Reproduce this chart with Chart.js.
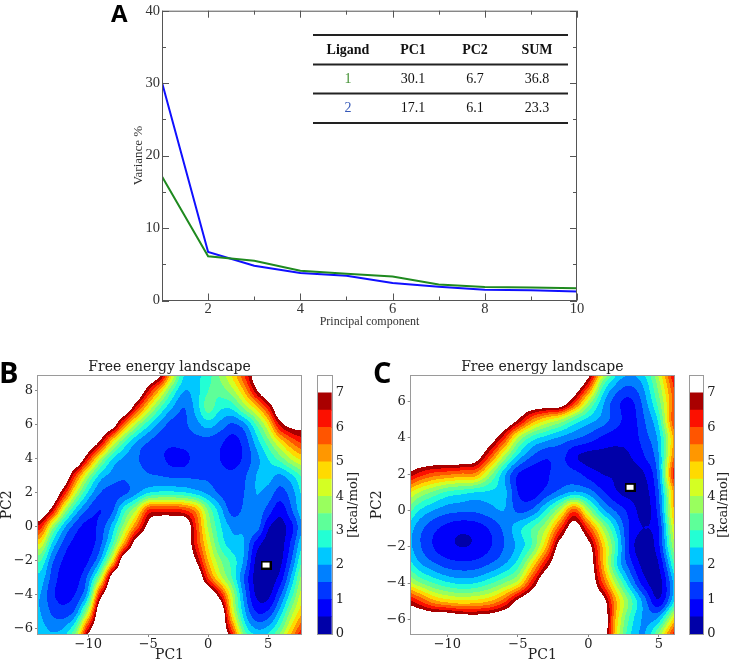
<!DOCTYPE html>
<html>
<head>
<meta charset="utf-8">
<script src="https://cdn.jsdelivr.net/npm/chart.js@4.4.1/dist/chart.umd.min.js"></script>
<style>
  html, body { margin: 0; padding: 0; background: #fff; }
  #wrap { position: relative; width: 731px; height: 662px; overflow: hidden; }
  canvas { position: absolute; }
</style>
</head>
<body>
<div id="wrap">
  <canvas id="chartA" width="731" height="330" style="left:0;top:0"></canvas>
  <canvas id="chartB" width="318" height="332" style="left:0;top:330px"></canvas>
  <canvas id="barB" width="70" height="332" style="left:300px;top:330px"></canvas>
  <canvas id="chartC" width="320" height="332" style="left:370px;top:330px"></canvas>
  <canvas id="barC" width="59" height="332" style="left:672px;top:330px"></canvas>
</div>
<script>
// --- panel A: variance per principal component ---
const components = [1, 2, 3, 4, 5, 6, 7, 8, 9, 10];
const varianceGreen = [17.1, 6.1, 5.5, 4.1, 3.7, 3.3, 2.2, 1.85, 1.8, 1.7];
const varianceBlue = [30.1, 6.7, 4.8, 3.8, 3.4, 2.4, 1.9, 1.5, 1.4, 1.25];
const xTicksA = [2, 4, 6, 8, 10];
const xMinorA = [1, 3, 5, 7, 9];
const yTicksA = [0, 10, 20, 30, 40];
const yMinorA = [5, 15, 25, 35];
const tableHeader = ['Ligand', 'PC1', 'PC2', 'SUM'];
const tableRows = [['1', '30.1', '6.7', '36.8'], ['2', '17.1', '6.1', '23.3']];
const ligandColors = ['#3f8f2f', '#3558b8'];

// --- contour levels (kcal/mol) ---
const levelStep = 0.5;
const levelMax = 7;
const levelColors = ['#0000a8', '#0000fb', '#0037ff', '#0080ff', '#00c8ff', '#23ffd4', '#5eff99',
                     '#99ff5e', '#d4ff23', '#ffda00', '#ff9700', '#ff5500', '#fc1000', '#a90000'];
const cbTicks = [0, 1, 2, 3, 4, 5, 6, 7];

// --- panel B: free energy, 1-unit grid (rows: y = 9 .. -7) ---
const bGridX = [-14, -13, -12, -11, -10, -9, -8, -7, -6, -5, -4, -3, -2, -1, 0, 1, 2, 3, 4, 5, 6, 7, 8];
const bGridY = [9, 8, 7, 6, 5, 4, 3, 2, 1, 0, -1, -2, -3, -4, -5, -6, -7];
const energyB = [
  [8,8,8,8,8,8,8,8,8,8,7.2,4.5,2.5,2.4,2.8,3.6,4.6,6.0,7.6,8,8,8,8],
  [8,8,8,8,8,8,8,8,8,6.5,4.8,3.0,2.0,2.3,3.0,3.2,3.8,5.0,6.8,8,8,8,8],
  [8,8,8,8,8,8,8,8,6.3,4.5,3.0,2.0,1.5,2.2,3.2,2.6,2.6,3.6,4.7,6.2,8,8,8],
  [8,8,8,8,8,8,7.5,5.5,3.8,2.6,1.8,1.3,1.4,1.8,2.2,1.8,1.4,1.8,3.0,4.5,6.6,7.3,7.3],
  [8,8,8,8,8,6.8,4.6,3.0,2.0,1.5,1.2,1.1,1.2,1.3,1.3,1.1,0.8,1.2,2.2,3.3,4.6,5.6,6.2],
  [8,8,8,8,6.2,4.0,2.5,1.9,1.6,1.2,1.1,0.85,0.85,1.2,1.3,1.0,0.8,1.1,1.8,2.5,3.2,4.1,4.7],
  [8,8,7.8,5.8,3.7,2.3,1.8,1.6,1.8,1.6,1.5,1.4,1.4,1.4,1.4,1.2,1.1,1.4,2.0,2.2,1.9,2.4,3.2],
  [8,8,6.3,4.0,2.4,1.5,1.3,1.4,1.9,2.5,2.7,2.7,2.6,2.3,1.9,1.4,1.1,1.5,2.0,1.8,1.3,1.8,2.7],
  [8,6.6,4.0,2.3,1.4,1.0,1.4,2.8,4.0,6.0,6.2,6.2,6.0,5.2,3.4,2.2,1.3,1.6,1.9,1.3,0.7,1.5,2.5],
  [6.2,3.8,2.1,1.2,0.8,1.2,2.2,3.8,5.6,7.3,8,8,8,6.0,3.9,2.6,1.9,1.9,1.8,0.6,0.3,0.9,2.1],
  [4.4,2.4,1.3,0.8,0.75,1.4,2.9,5.3,7.6,8,8,8,8,6.2,4.4,2.9,2.2,2.0,0.8,0.25,0.25,1.2,2.6],
  [3.0,1.6,0.9,0.65,1.0,2.1,4.6,7.9,8,8,8,8,8,7.0,5.0,3.6,2.8,1.9,0.4,0.15,0.35,1.6,3.2],
  [2.3,1.3,0.75,0.8,1.7,3.9,7.6,8,8,8,8,8,8,8,6.0,4.3,3.0,1.5,0.3,0.2,0.7,2.2,3.9],
  [2.0,1.1,0.85,1.1,2.4,6.5,8,8,8,8,8,8,8,8,8,6.5,4.0,1.8,0.45,0.35,1.4,2.9,4.5],
  [2.0,1.4,1.2,1.8,4.2,8,8,8,8,8,8,8,8,8,8,8,4.5,2.2,1.0,1.1,2.2,3.8,5.0],
  [2.2,1.9,2.1,3.3,6.5,8,8,8,8,8,8,8,8,8,8,8,5.8,3.0,2.0,2.2,3.2,4.8,6.2],
  [2.6,2.4,2.8,4.8,8,8,8,8,8,8,8,8,8,8,8,8,7.5,4.5,3.2,3.3,4.4,6.0,7.5]
];
const markerB = [{ x: 4.83, y: -2.24 }];
const xTicksB = [-10, -5, 0, 5];
const yTicksB = [-6, -4, -2, 0, 2, 4, 6, 8];

// --- panel C: free energy, 1-unit grid (rows: y = 8 .. -7) ---
const cGridX = [-13, -12, -11, -10, -9, -8, -7, -6, -5, -4, -3, -2, -1, 0, 1, 2, 3, 4, 5, 6, 7];
const cGridY = [8, 7, 6, 5, 4, 3, 2, 1, 0, -1, -2, -3, -4, -5, -6, -7];
const energyC = [
  [8,8,8,8,8,8,8,8,8,8,8,8,8,8,5.5,3.0,2.4,2.8,4.4,6.8,8],
  [8,8,8,8,8,8,8,8,8,8,8,8,8,6.4,3.3,2.0,1.6,2.2,3.8,6.0,8],
  [8,8,8,8,8,8,8,8,8,8,8,8,6.3,4.0,2.2,1.2,0.9,1.8,3.3,5.6,8],
  [8,8,8,8,8,8,8,8,7.0,5.5,4.6,4.0,3.0,2.3,1.8,1.2,0.8,1.5,2.7,5.8,8],
  [8,8,8,8,8,8,7.6,6.2,4.0,2.8,2.3,1.9,1.6,1.3,0.9,0.7,0.7,1.3,2.2,5.0,8],
  [8,8,8,8,8,7.6,6.0,4.0,2.4,1.5,1.1,1.2,0.6,0.35,0.35,0.35,0.5,1.0,2.0,5.3,8],
  [7.0,6.3,5.8,5.6,5.4,5.3,3.8,2.2,1.0,0.7,0.9,1.3,1.2,0.8,0.5,0.45,0.3,0.5,1.8,6.0,8],
  [4.8,4.0,3.4,2.9,2.7,2.5,2.4,2.2,1.0,0.7,1.2,1.7,2.1,1.8,1.1,0.55,0.3,0.3,1.5,5.0,8],
  [3.4,2.5,2.0,1.7,1.6,1.6,1.8,2.0,1.4,1.6,2.6,4.0,5.8,3.8,2.2,1.4,0.8,0.3,1.3,4.8,8],
  [2.45,1.7,1.15,0.8,0.63,0.72,1.05,1.6,2.3,3.0,4.0,6.0,7.6,6.0,4.0,2.3,0.9,0.5,1.0,4.2,7],
  [2.35,1.6,1.0,0.65,0.495,0.6,0.95,1.5,2.15,3.1,5.0,7.5,8,7.4,5.0,2.8,0.8,0.2,0.9,3.6,6],
  [3.0,2.15,1.65,1.3,1.2,1.25,1.55,2.0,2.8,4.6,6.6,8,8,7.8,5.2,2.6,1.2,0.3,0.5,2.8,6],
  [4.4,3.6,3.0,2.6,2.4,2.5,2.9,3.5,4.3,6.3,8,8,8,8,6.0,3.8,2.0,0.7,0.3,2.0,5],
  [6.8,6.1,5.2,4.8,4.6,4.7,5.0,5.8,7.2,8,8,8,8,8,7.5,5.0,3.2,1.7,0.6,2.3,5],
  [8,8,8,8,7.7,7.6,7.7,8,8,8,8,8,8,8,8,4.8,2.8,1.9,2.2,4.5,7],
  [8,8,8,8,8,8,8,8,8,8,8,8,8,8,8,4.5,2.5,2.0,3.8,6.3,8]
];
const markerC = [{ x: 2.96, y: 1.28 }];
const xTicksC = [-10, -5, 0, 5];
const yTicksC = [-6, -4, -2, 0, 2, 4, 6];

Chart.defaults.animation = false;
Chart.defaults.responsive = false;
Chart.defaults.plugins.legend.display = false;
Chart.defaults.plugins.tooltip.enabled = false;
Chart.defaults.color = '#222';

const serifA = 'Liberation Serif';
const serifB = 'DejaVu Serif';

// panel letter (A, B, C)
const panelLetter = {
  id: 'panelLetter',
  afterDraw(chart, args, opts) {
    if (!opts.text) return;
    const ctx = chart.ctx;
    ctx.save();
    ctx.fillStyle = '#000';
    ctx.font = `bold ${opts.size}px "Open Sans", "DejaVu Sans", sans-serif`;
    ctx.textBaseline = 'alphabetic';
    ctx.fillText(opts.text, opts.x, opts.y);
    ctx.restore();
  }
};

// --- PANEL A ---
const frameA = {
  id: 'frameA',
  afterDatasetsDraw(chart) {
    const { ctx, chartArea: a, scales: { x, y } } = chart;
    ctx.save();
    ctx.strokeStyle = '#555';
    ctx.lineWidth = 1;
    ctx.strokeRect(a.left + 0.5, a.top + 0.5, a.width - 1, a.height - 0.5);
    const seg = (x1, y1, x2, y2) => { ctx.beginPath(); ctx.moveTo(x1, y1); ctx.lineTo(x2, y2); ctx.stroke(); };
    const xt = (vals, len) => vals.forEach(v => {
      const px = Math.round(x.getPixelForValue(v)) + 0.5;
      seg(px, a.bottom, px, a.bottom - len);
      seg(px, a.top, px, a.top + len);
    });
    const yt = (vals, len) => vals.forEach(v => {
      const py = Math.round(y.getPixelForValue(v)) + 0.5;
      seg(a.left, py, a.left + len, py);
      seg(a.right, py, a.right - len, py);
    });
    xt(xTicksA, 7); xt(xMinorA, 4);
    yt(yTicksA, 7); yt(yMinorA, 4);
    ctx.restore();
  }
};

const tableA = {
  id: 'tableA',
  afterDraw(chart) {
    const ctx = chart.ctx;
    const cols = [348, 413, 475, 537];
    const rules = [35, 64.5, 93.5, 123];
    ctx.save();
    ctx.strokeStyle = '#222';
    ctx.lineWidth = 2;
    rules.forEach(yy => { ctx.beginPath(); ctx.moveTo(313, yy); ctx.lineTo(568, yy); ctx.stroke(); });
    ctx.textAlign = 'center';
    ctx.textBaseline = 'middle';
    ctx.fillStyle = '#111';
    ctx.font = `bold 14px "${serifA}"`;
    tableHeader.forEach((t, i) => ctx.fillText(t, cols[i], 50));
    ctx.font = `14px "${serifA}"`;
    tableRows.forEach((row, r) => row.forEach((t, i) => {
      ctx.fillStyle = i === 0 ? ligandColors[r] : '#111';
      ctx.fillText(t, cols[i], 79.5 + 29 * r);
    }));
    ctx.restore();
  }
};

new Chart(document.getElementById('chartA'), {
  type: 'line',
  data: {
    datasets: [
      { data: components.map((c, i) => ({ x: c, y: varianceGreen[i] })), borderColor: '#1f8a1f', borderWidth: 2, pointRadius: 0, tension: 0 },
      { data: components.map((c, i) => ({ x: c, y: varianceBlue[i] })), borderColor: '#1010ff', borderWidth: 2, pointRadius: 0, tension: 0 }
    ]
  },
  options: {
    layout: { padding: { left: 131, top: 9, right: 154, bottom: 0 } },
    plugins: { panelLetter: { text: 'A', x: 111, y: 22, size: 24 } },
    scales: {
      x: {
        type: 'linear', min: 1, max: 10,
        afterBuildTicks: s => { s.ticks = xTicksA.map(v => ({ value: v })); },
        afterFit: s => { s.height = 29.5; },
        grid: { display: false, drawTicks: false }, border: { display: false },
        ticks: { padding: 0, color: '#333', font: { family: serifA, size: 14.5 } },
        title: { display: true, text: 'Principal component', color: '#333', padding: { top: 0, bottom: 1 }, font: { family: serifA, size: 12 } }
      },
      y: {
        type: 'linear', min: 0, max: 40,
        afterBuildTicks: s => { s.ticks = yTicksA.map(v => ({ value: v })); },
        afterFit: s => { s.width = 31; },
        grid: { display: false, drawTicks: false }, border: { display: false },
        ticks: { padding: 2, color: '#333', font: { family: serifA, size: 14.5 } },
        title: { display: true, text: 'Variance %', color: '#333', padding: { top: 0, bottom: 0 }, font: { family: serifA, size: 13 } }
      }
    }
  },
  plugins: [frameA, tableA, panelLetter]
});

// --- PANELS B and C ---
function hexToRgb(h) {
  return [parseInt(h.slice(1, 3), 16), parseInt(h.slice(3, 5), 16), parseInt(h.slice(5, 7), 16)];
}
const levelRgb = levelColors.map(hexToRgb);

// Catmull-Rom sample of the energy table at (vx, vy)
function sampleGrid(grid, gx, gy, vx, vy) {
  const fx = (vx - gx[0]) / (gx[1] - gx[0]);
  const fy = (vy - gy[0]) / (gy[1] - gy[0]);
  const i = Math.floor(fx), j = Math.floor(fy);
  const tx = fx - i, ty = fy - j;
  const nr = grid.length, nc = grid[0].length;
  const at = (r, c) => grid[Math.min(Math.max(r, 0), nr - 1)][Math.min(Math.max(c, 0), nc - 1)];
  const cr = (p0, p1, p2, p3, t) => p1 + 0.5 * t * (p2 - p0 + t * (2 * p0 - 5 * p1 + 4 * p2 - p3 + t * (3 * (p1 - p2) + p3 - p0)));
  const r = [];
  for (let k = -1; k <= 2; k++) r.push(cr(at(j + k, i - 1), at(j + k, i), at(j + k, i + 1), at(j + k, i + 2), tx));
  return cr(r[0], r[1], r[2], r[3], ty);
}

function contourPlugin(grid, gx, gy) {
  return {
    id: 'contour',
    beforeDatasetsDraw(chart) {
      const { ctx, chartArea: a, scales: { x, y } } = chart;
      const dpr = chart.currentDevicePixelRatio || 1;
      const x0 = Math.round(a.left * dpr), y0 = Math.round(a.top * dpr);
      const w = Math.round(a.right * dpr) - x0, h = Math.round(a.bottom * dpr) - y0;
      const img = ctx.createImageData(w, h);
      for (let py = 0; py < h; py++) {
        const vy = y.getValueForPixel((y0 + py + 0.5) / dpr);
        for (let px = 0; px < w; px++) {
          const vx = x.getValueForPixel((x0 + px + 0.5) / dpr);
          const e = sampleGrid(grid, gx, gy, vx, vy);
          const c = e >= levelMax ? [255, 255, 255] : levelRgb[Math.max(0, Math.floor(e / levelStep))];
          const o = (py * w + px) * 4;
          img.data[o] = c[0]; img.data[o + 1] = c[1]; img.data[o + 2] = c[2]; img.data[o + 3] = 255;
        }
      }
      ctx.putImageData(img, x0, y0);
    }
  };
}

const boxFrame = {
  id: 'boxFrame',
  afterDraw(chart) {
    const { ctx, chartArea: a } = chart;
    ctx.save();
    ctx.strokeStyle = '#9a9a9a';
    ctx.lineWidth = 1;
    ctx.strokeRect(Math.round(a.left) - 0.5, Math.round(a.top) - 0.5, Math.round(a.right) - Math.round(a.left) + 1, Math.round(a.bottom) - Math.round(a.top) + 1);
    ctx.restore();
  }
};

function markerImage() {
  const c = document.createElement('canvas');
  c.width = 11; c.height = 9;
  const g = c.getContext('2d');
  g.fillStyle = '#000'; g.fillRect(0, 0, 11, 9);
  g.fillStyle = '#fff'; g.fillRect(2, 2, 7, 5);
  return c;
}

const fmtMinus = v => (v < 0 ? '\u2212' : '') + Math.abs(v);

function landscape(id, grid, gx, gy, marker, lim, xt, yt, pad, letter) {
  new Chart(document.getElementById(id), {
    type: 'scatter',
    data: { datasets: [{ data: marker, pointStyle: markerImage(), pointRadius: 5 }] },
    options: {
      layout: { padding: { left: 0, right: pad.right, top: 0, bottom: 0 } },
      plugins: {
        title: {
          display: true, text: 'Free energy landscape', fullSize: false, color: '#222',
          font: { family: serifB, size: 14, weight: 'normal', lineHeight: 1.2 },
          padding: { top: 28.9, bottom: 0 }
        },
        panelLetter: letter
      },
      scales: {
        x: {
          type: 'linear', min: lim.x[0], max: lim.x[1],
          afterBuildTicks: s => { s.ticks = xt.map(v => ({ value: v })); },
          afterFit: s => { s.height = 28; },
          grid: { display: true, drawOnChartArea: false, tickLength: 3, color: '#888' }, border: { display: false },
          ticks: { padding: 0, color: '#222', font: { family: serifB, size: 13 }, callback: fmtMinus },
          title: { display: true, text: 'PC1', color: '#222', padding: 0, font: { family: serifB, size: 14, lineHeight: 1 } }
        },
        y: {
          type: 'linear', min: lim.y[0], max: lim.y[1],
          afterBuildTicks: s => { s.ticks = yt.map(v => ({ value: v })); },
          afterFit: s => { s.width = pad.axis; },
          grid: { display: true, drawOnChartArea: false, tickLength: 3, color: '#888' }, border: { display: false },
          ticks: { padding: 2, color: '#222', font: { family: serifB, size: 13 }, callback: fmtMinus },
          title: { display: true, text: 'PC2', color: '#222', padding: 0, font: { family: serifB, size: 14, lineHeight: 1 } }
        }
      }
    },
    plugins: [contourPlugin(grid, gx, gy), boxFrame, panelLetter]
  });
}

landscape('chartB', energyB, bGridX, bGridY, markerB, { x: [-14.2, 7.75], y: [-6.3, 8.9] },
  xTicksB, yTicksB, { right: 17, axis: 38 }, { text: 'B', x: -1, y: 53, size: 29 });
landscape('chartC', energyC, cGridX, cGridY, markerC, { x: [-12.6, 6.08], y: [-6.81, 7.43] },
  xTicksC, yTicksC, { right: 16, axis: 40.7 }, { text: 'C', x: 3, y: 53, size: 29 });

// --- colour bars ---
const cbLabel = {
  id: 'cbLabel',
  afterDraw(chart, args, opts) {
    const { ctx, chartArea: a } = chart;
    ctx.save();
    ctx.strokeStyle = '#9a9a9a';
    ctx.lineWidth = 1;
    ctx.strokeRect(Math.round(a.left) - 0.5, Math.round(a.top) - 0.5, Math.round(a.right) - Math.round(a.left) + 1, Math.round(a.bottom) - Math.round(a.top) + 1);
    ctx.translate(opts.x, (a.top + a.bottom) / 2);
    ctx.rotate(-Math.PI / 2);
    ctx.fillStyle = '#222';
    ctx.font = `13px "${serifB}"`;
    ctx.textAlign = 'center';
    ctx.textBaseline = 'middle';
    ctx.fillText('[kcal/mol]', 0, 0);
    ctx.restore();
  }
};

function colourBar(id, axisWidth, labelX) {
  const sets = levelColors.map(c => ({ data: [levelStep], backgroundColor: c }));
  sets.push({ data: [levelStep], backgroundColor: '#ffffff' });
  new Chart(document.getElementById(id), {
    type: 'bar',
    data: { labels: [''], datasets: sets.map(s => Object.assign(s, { borderWidth: 0, barPercentage: 1, categoryPercentage: 1 })) },
    options: {
      layout: { padding: { left: 18, top: 45.7, bottom: 28, right: 0 } },
      plugins: { cbLabel: { x: labelX } },
      scales: {
        x: { stacked: true, display: false },
        y: {
          stacked: true, position: 'right', min: 0, max: 7.5,
          afterBuildTicks: s => { s.ticks = cbTicks.map(v => ({ value: v })); },
          afterFit: s => { s.width = axisWidth; },
          grid: { display: false, drawTicks: false }, border: { display: false },
          ticks: { padding: 4, color: '#222', font: { family: serifB, size: 13 } }
        }
      }
    },
    plugins: [cbLabel]
  });
}

colourBar('barB', 38.3, 53.5);
colourBar('barC', 27.7, 52);
</script>
</body>
</html>
